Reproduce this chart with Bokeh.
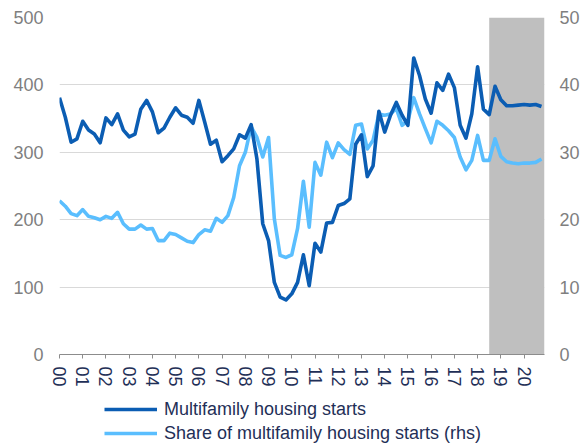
import numpy as np
from bokeh.plotting import figure
from bokeh.layouts import column
from bokeh.models import (Range1d, LinearAxis, FixedTicker, BoxAnnotation,
                          Legend, LegendItem)
from bokeh.embed import file_html
from bokeh.resources import INLINE

# ---- data (quarterly, 2000Q1 .. 2020Q4) ----
year_labels = ["00", "01", "02", "03", "04", "05", "06", "07", "08", "09", "10",
               "11", "12", "13", "14", "15", "16", "17", "18", "19", "20"]

multifamily_starts = [
    381, 352, 315, 320, 346, 333, 327, 314, 351, 341, 357, 333,
    323, 327, 364, 377, 360, 329, 336, 352, 366, 355, 352, 343,
    377, 345, 312, 318, 286, 295, 305, 326, 321, 341, 290, 194,
    169, 107, 85, 81, 90, 107, 148, 102, 165, 152, 195, 196,
    221, 224, 231, 312, 326, 264, 280, 361, 330, 355, 374, 355,
    340, 440, 414, 379, 358, 403, 392, 416, 396, 340, 321, 357,
    427, 364, 356, 398, 378, 369, 369, 370, 371, 370, 371, 368,
]

multifamily_share = [
    22.8, 22.0, 20.9, 20.6, 21.5, 20.5, 20.3, 20.0, 20.5, 20.2, 21.1, 19.4,
    18.6, 18.6, 19.2, 18.6, 18.7, 16.9, 16.9, 18.0, 17.8, 17.3, 16.8, 16.6,
    17.8, 18.5, 18.3, 20.2, 19.6, 20.6, 23.3, 28.0, 30.0, 33.8, 32.2, 29.3,
    32.2, 20.1, 14.7, 14.4, 14.8, 18.7, 25.7, 18.9, 28.5, 26.6, 31.5, 29.2,
    31.4, 30.4, 29.7, 34.0, 34.2, 30.5, 31.8, 35.7, 35.5, 35.7, 36.5, 34.0,
    34.7, 38.1, 35.7, 33.5, 31.4, 34.6, 34.0, 33.2, 32.2, 29.3, 27.4, 28.8,
    32.5, 28.8, 28.8, 32.0, 29.4, 28.6, 28.4, 28.3, 28.4, 28.4, 28.5, 29.0,
]

series_names = ["Multifamily housing starts",
                "Share of multifamily housing starts (rhs)"]

quarter_pos = np.arange(len(multifamily_starts)) / 4.0  # years since 2000
forecast_start = 18.5

left_ticks = [0, 100, 200, 300, 400, 500]
right_ticks = [0, 10, 20, 30, 40, 50]

# ---- styling ----
DARK = "#0B5DB3"
LIGHT = "#5ABEFE"
GREY_TXT = "#7F7F7F"
NAVY = "#1F2F57"
FONT = "Liberation Sans"
LW = 3.6

p = figure(width=582, height=392, output_backend="svg", toolbar_location=None,
           x_range=Range1d(0, 20.88), y_range=Range1d(0, 500),
           min_border_left=59, min_border_right=38, min_border_top=17,
           min_border_bottom=38)
p.outline_line_color = None
p.background_fill_color = "white"
p.border_fill_color = "white"

p.extra_y_ranges = {"rhs": Range1d(0, 50)}

# shading of forecast period (under lines, over grid)
shade = BoxAnnotation(left=forecast_start, fill_color="#BFBFBF", fill_alpha=1.0,
                      line_color=None, level="underlay")
p.add_layout(shade)

p.line(quarter_pos, multifamily_share, y_range_name="rhs",
       line_color=LIGHT, line_width=LW, line_join="round")
p.line(quarter_pos, multifamily_starts,
       line_color=DARK, line_width=LW, line_join="round")

# grid
p.xgrid.grid_line_color = None
p.ygrid.grid_line_color = "#D9D9D9"
p.ygrid.grid_line_width = 1
p.ygrid.ticker = FixedTicker(ticks=left_ticks)

# x axis
xa = p.xaxis[0]
xa.ticker = FixedTicker(ticks=list(range(len(year_labels))))
xa.major_label_overrides = {i: lab for i, lab in enumerate(year_labels)}
xa.major_label_orientation = "vertical"
xa.axis_line_color = "#8C8C8C"
xa.major_tick_line_color = "#8C8C8C"
xa.major_tick_out = 4
xa.major_tick_in = 0
xa.minor_tick_line_color = None
xa.major_label_text_color = NAVY
xa.major_label_text_font = FONT
xa.major_label_text_font_size = "18px"
xa.major_label_standoff = 8

# left axis
ya = p.yaxis[0]
ya.ticker = FixedTicker(ticks=left_ticks)
ya.axis_line_color = None
ya.major_tick_line_color = None
ya.minor_tick_line_color = None
ya.major_tick_out = 0
ya.major_tick_in = 0
ya.major_label_text_color = GREY_TXT
ya.major_label_text_font = FONT
ya.major_label_text_font_size = "18px"
ya.major_label_standoff = 16

# right axis
ra = LinearAxis(y_range_name="rhs", ticker=FixedTicker(ticks=right_ticks))
ra.axis_line_color = None
ra.major_tick_line_color = None
ra.minor_tick_line_color = None
ra.major_tick_out = 0
ra.major_tick_in = 0
ra.major_label_text_color = GREY_TXT
ra.major_label_text_font = FONT
ra.major_label_text_font_size = "18px"
ra.major_label_standoff = 15
p.add_layout(ra, "right")

# ---- legend strip below the chart ----
# the series are re-plotted here outside the visible range only to feed the legend
lg = figure(width=582, height=54, output_backend="svg", toolbar_location=None,
            x_range=Range1d(-100, -99), y_range=Range1d(-100, -99),
            x_axis_location=None, y_axis_location=None,
            min_border=0)
lg.outline_line_color = None
lg.grid.grid_line_color = None
lg.background_fill_color = "white"
lg.border_fill_color = "white"
k1 = lg.line(quarter_pos, multifamily_starts, line_color=DARK, line_width=LW)
k2 = lg.line(quarter_pos, multifamily_share, line_color=LIGHT, line_width=LW)

legend = Legend(items=[
    LegendItem(label=series_names[0], renderers=[k1]),
    LegendItem(label=series_names[1], renderers=[k2]),
], location=(45, 1), orientation="vertical")
legend.border_line_color = None
legend.background_fill_alpha = 0
legend.padding = 0
legend.margin = 0
legend.spacing = 0
legend.glyph_width = 53
legend.glyph_height = 24
legend.label_height = 24
legend.label_standoff = 7
legend.label_text_font = FONT
legend.label_text_font_size = "18px"
legend.label_text_color = NAVY
lg.add_layout(legend)

layout = column(p, lg, spacing=0)
open("out.html", "w").write(file_html(layout, INLINE))
